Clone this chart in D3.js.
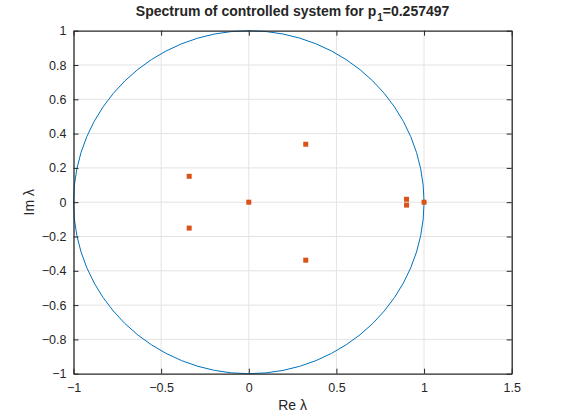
<!DOCTYPE html>
<html>
<head>
<meta charset="utf-8">
<script src="https://cdn.jsdelivr.net/npm/d3@7"></script>
<style>
  body { margin: 0; background: #fff; }
  text { font-family: "Liberation Sans", Arial, sans-serif; fill: #262626; }
</style>
</head>
<body>
<div id="chart"></div>
<script>
// eigenvalues of the controlled system
var eigRe = [-0.34, -0.34, 0, 0.325, 0.325, 0.9, 0.9, 1.0];
var eigIm = [0.151, -0.151, 0, 0.338, -0.338, 0.017, -0.017, 0];
var xTicks = [-1, -0.5, 0, 0.5, 1, 1.5];
var yTicks = [-1, -0.8, -0.6, -0.4, -0.2, 0, 0.2, 0.4, 0.6, 0.8, 1];

var W = 566, H = 420,
    pLeft = 73.5, pRight = 511.7, pTop = 30.7, pBottom = 373.7;

var svg = d3.select('#chart').append('svg')
  .attr('width', W).attr('height', H);

var x = d3.scaleLinear().domain([-1, 1.5]).range([pLeft, pRight]);
var y = d3.scaleLinear().domain([-1, 1]).range([pBottom, pTop]);

var fmt = function(d) { return String(d).replace('-', '\u2212'); };

// grid
svg.append('g').selectAll('line').data(xTicks.slice(1, -1)).enter().append('line')
  .attr('x1', x).attr('x2', x).attr('y1', pTop).attr('y2', pBottom)
  .attr('stroke', '#e3e3e3').attr('stroke-width', 1);
svg.append('g').selectAll('line').data(yTicks.slice(1, -1)).enter().append('line')
  .attr('y1', y).attr('y2', y).attr('x1', pLeft).attr('x2', pRight)
  .attr('stroke', '#e3e3e3').attr('stroke-width', 1);

// unit circle
svg.append('ellipse')
  .attr('cx', x(0)).attr('cy', y(0))
  .attr('rx', x(1) - x(0)).attr('ry', y(0) - y(1))
  .attr('fill', 'none').attr('stroke', '#0072BD').attr('stroke-width', 1);

// eigenvalue markers
svg.append('g').selectAll('rect').data(eigRe).enter().append('rect')
  .attr('x', function(d) { return x(d) - 2.5; })
  .attr('y', function(d, i) { return y(eigIm[i]) - 2.5; })
  .attr('width', 5).attr('height', 5)
  .attr('fill', '#D95319');

// axes (box with inward ticks)
var axB = d3.axisBottom(x).tickValues(xTicks).tickSizeInner(-5).tickSizeOuter(0).tickFormat(fmt).tickPadding(9);
var axT = d3.axisTop(x).tickValues(xTicks).tickSizeInner(-5).tickSizeOuter(0).tickFormat('');
var axL = d3.axisLeft(y).tickValues(yTicks).tickSizeInner(-5).tickSizeOuter(0).tickFormat(fmt).tickPadding(7);
var axR = d3.axisRight(y).tickValues(yTicks).tickSizeInner(-5).tickSizeOuter(0).tickFormat('');

[[axB, 'translate(0,' + pBottom + ')'], [axT, 'translate(0,' + pTop + ')'],
 [axL, 'translate(' + pLeft + ',0)'], [axR, 'translate(' + pRight + ',0)']].forEach(function(a) {
  var g = svg.append('g').attr('transform', a[1]).call(a[0]);
  g.select('.domain').attr('stroke', '#262626').attr('stroke-width', 1.3);
  g.selectAll('.tick line').attr('stroke', '#262626');
  g.selectAll('.tick text').style('font-size', '12.5px').style('font-family', '"Liberation Sans", Arial, sans-serif').attr('fill', '#262626');
});

// title
var title = svg.append('text')
  .attr('x', (pLeft + pRight) / 2).attr('y', 16)
  .attr('text-anchor', 'middle')
  .style('font-size', '14px').style('font-weight', 'bold');
title.append('tspan').text('Spectrum of controlled system for p');
title.append('tspan').attr('dy', 5).attr('dx', 1).style('font-size', '10px').text('1');
title.append('tspan').attr('dy', -5).text('=0.257497');

// axis labels
svg.append('text')
  .attr('x', (pLeft + pRight) / 2).attr('y', 410)
  .attr('text-anchor', 'middle').style('font-size', '14px')
  .text('Re \u03bb');
svg.append('text')
  .attr('transform', 'translate(34,' + (pTop + pBottom) / 2 + ') rotate(-90)')
  .attr('text-anchor', 'middle').style('font-size', '14px')
  .text('Im \u03bb');
</script>
</body>
</html>
